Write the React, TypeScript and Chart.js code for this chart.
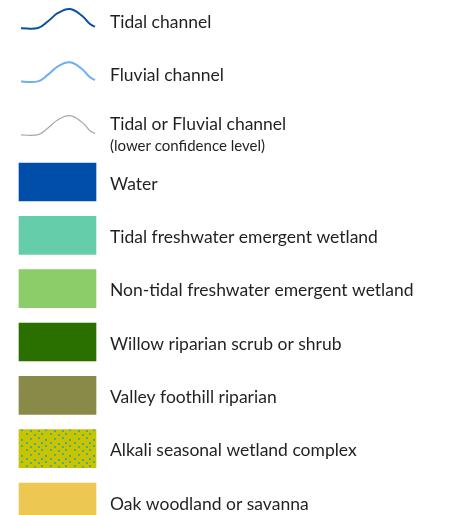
import React, { useEffect, useRef } from "react";
import { Chart, registerables } from "chart.js";

Chart.register(...registerables);

// ---- legend content ----
const lineLabels = ["Tidal channel", "Fluvial channel", "Tidal or Fluvial channel"];
const lineSubLabels = ["", "", "(lower confidence level)"];
const lineColors = ["#0b4ea6", "#6eaef2", "#a8a8a8"];
const lineWidths = [2, 2, 1.2];

const swatchLabels = [
  "Water",
  "Tidal freshwater emergent wetland",
  "Non-tidal freshwater emergent wetland",
  "Willow riparian scrub or shrub",
  "Valley foothill riparian",
  "Alkali seasonal wetland complex",
  "Oak woodland or savanna",
];
const swatchColors = ["#004ea8", "#66cdaa", "#8ccd6a", "#2a7000", "#8a8a48", "pattern", "#ecc853"];

// channel symbol profile (x position, vertical offset in row units)
const curveX = [21, 38, 48, 58, 70, 82, 90, 95];
const curveDy = [0.118, 0.113, -0.013, -0.169, -0.244, -0.118, 0.038, 0.088];
const swatchSpan = [19, 96];
const labelX = 110;

const ROW_MIN = -0.4125;
const ROW_MAX = 9.244;

function makePattern(): CanvasPattern | string {
  const c = document.createElement("canvas");
  c.width = 24;
  c.height = 16;
  const g = c.getContext("2d");
  if (!g) return "#c9c400";
  g.fillStyle = "#c9c400";
  g.fillRect(0, 0, 24, 16);
  const dots = [
    [2, 1], [10, 2], [17, 1],
    [6, 6], [14, 5], [21, 7],
    [2, 10], [10, 11], [17, 10],
    [6, 14], [14, 14], [21, 13],
  ];
  g.fillStyle = "rgba(50,165,165,0.8)";
  dots.forEach(([x, y]) => g.fillRect(x, y, 2, 2));
  return g.createPattern(c, "repeat") || "#c9c400";
}

const MAIN_FONT = "17.5px Lato";
const SUB_FONT = "15px Lato";

const labelPlugin = {
  id: "legendLabels",
  afterDatasetsDraw(chart: any) {
    const { ctx, scales } = chart;
    const xs = scales.x;
    const ys = scales.y;
    const x = xs.getPixelForValue(labelX);
    ctx.save();
    ctx.fillStyle = "#231f20";
    ctx.textBaseline = "middle";
    ctx.textAlign = "left";
    ctx.font = MAIN_FONT;
    lineLabels.forEach((t, i) => {
      const y = ys.getPixelForValue(i);
      if (lineSubLabels[i]) {
        ctx.font = MAIN_FONT;
        ctx.fillText(t, x, y - 4);
        ctx.font = SUB_FONT;
        ctx.fillText(lineSubLabels[i], x, y + 17);
        ctx.font = MAIN_FONT;
      } else {
        ctx.fillText(t, x, y);
      }
    });
    swatchLabels.forEach((t, i) => {
      const y = ys.getPixelForValue(i + lineLabels.length);
      ctx.fillText(t, x, y + 2);
    });
    ctx.restore();
  },
};

export default function App() {
  const ref = useRef<HTMLCanvasElement>(null);
  useEffect(() => {
    if (!ref.current) return;
    const pattern = makePattern();
    const lineDatasets = lineLabels.map((lab, i) => ({
      type: "line" as const,
      label: lab,
      data: curveX.map((x, k) => ({ x, y: i + curveDy[k] })),
      borderColor: lineColors[i],
      borderWidth: lineWidths[i],
      pointRadius: 0,
      fill: false,
      tension: 0.4,
    }));
    const barDataset = {
      type: "bar" as const,
      label: "swatches",
      indexAxis: "y" as const,
      data: swatchLabels.map((_, i) => ({ x: swatchSpan, y: i + lineLabels.length })),
      backgroundColor: swatchColors.map((c) => (c === "pattern" ? pattern : c)),
      borderWidth: 0,
      barThickness: 38,
    };
    const chart = new Chart(ref.current, {
      type: "bar",
      data: { datasets: [barDataset as any, ...lineDatasets] },
      options: {
        animation: false,
        responsive: false,
        layout: { padding: 0 },
        plugins: { legend: { display: false }, tooltip: { enabled: false }, title: { display: false } },
        scales: {
          x: { type: "linear", min: 0, max: 454, display: false, offset: false, grace: 0 },
          y: { type: "linear", min: ROW_MIN, max: ROW_MAX, reverse: true, display: false, offset: false, grace: 0 },
        },
      },
      plugins: [labelPlugin],
    });
    return () => chart.destroy();
  }, []);
  return (
    <div style={{ position: "fixed", left: 0, top: 0, width: 454, height: 515, background: "#fff" }}>
      <canvas ref={ref} width={454} height={515} />
    </div>
  );
}
